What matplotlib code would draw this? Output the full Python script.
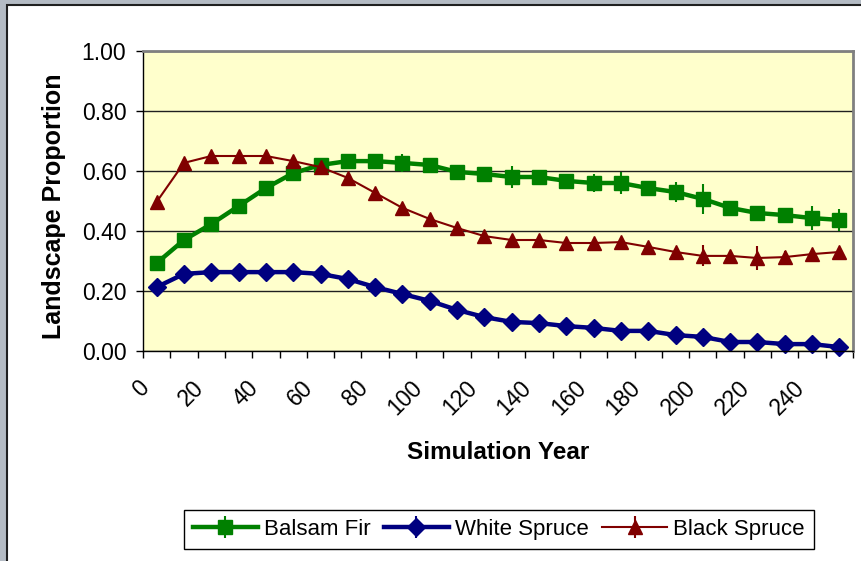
import matplotlib
matplotlib.use("Agg")
import matplotlib.pyplot as plt
from matplotlib.patches import Rectangle
from matplotlib.transforms import ScaledTranslation

plt.rcParams['font.family'] = ['Liberation Sans', 'DejaVu Sans']

years = list(range(0, 260, 10))
tick_labels = [str(y) if y % 20 == 0 else '' for y in years]

balsam_fir = [0.293, 0.370, 0.423, 0.483, 0.543, 0.593, 0.620, 0.633, 0.633, 0.627,
              0.620, 0.597, 0.590, 0.580, 0.580, 0.567, 0.560, 0.560, 0.543, 0.530,
              0.507, 0.477, 0.460, 0.453, 0.443, 0.437]
balsam_err = [0.0, 0.0, 0.0, 0.0, 0.0, 0.0, 0.0, 0.0, 0.01, 0.03,
              0.01, 0.0, 0.023, 0.037, 0.02, 0.02, 0.03, 0.035, 0.02, 0.033,
              0.05, 0.015, 0.02, 0.025, 0.04, 0.038]

white_spruce = [0.213, 0.257, 0.263, 0.263, 0.263, 0.263, 0.257, 0.240, 0.213, 0.190,
                0.167, 0.137, 0.113, 0.097, 0.093, 0.083, 0.077, 0.067, 0.067, 0.053,
                0.047, 0.030, 0.030, 0.023, 0.023, 0.013]
white_err = [0.0, 0.02, 0.0, 0.0, 0.0, 0.0, 0.0, 0.0, 0.0, 0.0,
             0.0, 0.0, 0.0, 0.0, 0.0, 0.0, 0.0, 0.0, 0.0, 0.0,
             0.0, 0.0, 0.0, 0.0, 0.0, 0.0]

black_spruce = [0.497, 0.627, 0.650, 0.650, 0.650, 0.633, 0.613, 0.577, 0.527, 0.477,
                0.440, 0.410, 0.383, 0.370, 0.370, 0.360, 0.360, 0.363, 0.347, 0.330,
                0.317, 0.317, 0.310, 0.313, 0.323, 0.330]
black_err = [0.0, 0.0, 0.0, 0.0, 0.0, 0.0, 0.0, 0.0, 0.0, 0.0,
             0.0, 0.0, 0.0, 0.0, 0.0, 0.0, 0.0, 0.0, 0.0, 0.0,
             0.035, 0.015, 0.04, 0.02, 0.0, 0.0]

x = list(range(len(years)))

fig = plt.figure(figsize=(8.61, 5.61), dpi=100)
fig.patch.set_facecolor('#b4bbc4')
# white chart area with dark border on the left/top
fig.patches.append(Rectangle((7 / 861, -0.01), 1, 1.01 - 5 / 561, transform=fig.transFigure,
                             facecolor='white', edgecolor='#202020', lw=1.5, zorder=-5))

ax = fig.add_axes([143 / 861, 1 - 351 / 561, 710 / 861, 300 / 561])
ax.set_facecolor('#FFFFCC')

ax.errorbar(x, balsam_fir, yerr=balsam_err, color='#008000', marker='s', ms=9.5, lw=3.2,
            elinewidth=1.5, capsize=0, label='Balsam Fir', clip_on=False)
ax.errorbar(x, white_spruce, yerr=white_err, color='#000080', marker='D', ms=9.5, lw=3.2,
            elinewidth=1.5, capsize=0, label='White Spruce', clip_on=False)
ax.errorbar(x, black_spruce, yerr=black_err, color='#800000', marker='^', ms=10.5, lw=1.5,
            elinewidth=1.5, capsize=0, label='Black Spruce', clip_on=False)

ax.set_xlim(-0.5, len(years) - 0.5)
ax.set_ylim(0, 1.0)
ax.set_yticks([0, 0.2, 0.4, 0.6, 0.8, 1.0])
ax.set_yticklabels(['%.2f' % v for v in [0, 0.2, 0.4, 0.6, 0.8, 1.0]])
ax.grid(axis='y', color='#202020', lw=1)
ax.set_axisbelow(True)

ax.set_xticks(x)
ax.set_xticklabels(tick_labels, rotation=45, ha='right', va='center', rotation_mode='anchor')
ax.set_xticks([i - 0.5 for i in range(len(years) + 1)], minor=True)
ax.tick_params(axis='x', which='major', length=0, pad=24, labelsize=16.5)
ax.tick_params(axis='x', which='minor', length=5, width=1, color='black')
ax.tick_params(axis='y', length=5, width=1, pad=7, labelsize=16.5)
offset = ScaledTranslation(-11 / 100, 0, fig.dpi_scale_trans)
for lab in ax.get_xticklabels():
    lab.set_transform(lab.get_transform() + offset)

for side in ['top', 'right']:
    ax.spines[side].set_color('#808080')
    ax.spines[side].set_linewidth(2)
for side in ['left', 'bottom']:
    ax.spines[side].set_color('black')
    ax.spines[side].set_linewidth(1)

ax.set_xlabel('Simulation Year', fontsize=17.5, fontweight='bold')
ax.xaxis.set_label_coords(0.5, -0.30)
ax.set_ylabel('Landscape Proportion', fontsize=18, fontweight='bold')
ax.yaxis.set_label_coords(-0.108, 0.483)

leg = fig.legend(loc='center', bbox_to_anchor=(499 / 861, 1 - 529.5 / 561), ncol=3,
                 fontsize=16, frameon=True, fancybox=False, framealpha=1,
                 edgecolor='black', handlelength=2.9, handletextpad=0.3,
                 columnspacing=0.6, borderpad=0.4, borderaxespad=0, markerscale=1.0)
leg.get_frame().set_linewidth(1)

fig.savefig('out.png', dpi=100, facecolor=fig.get_facecolor())
